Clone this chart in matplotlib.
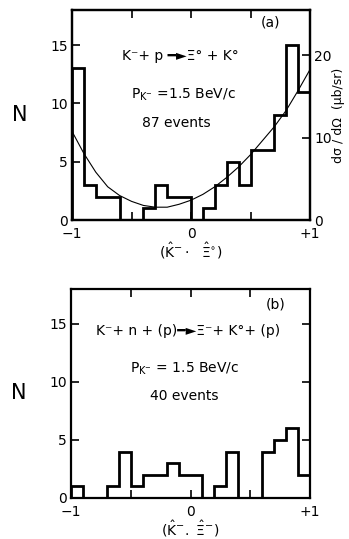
import numpy as np
import matplotlib
matplotlib.use('Agg')
import matplotlib.pyplot as plt

# 数据: 每个 bin 宽 0.1, 从 -1 到 +1
bin_edges = np.linspace(-1, 1, 21)
counts_a = [13, 3, 2, 2, 0, 0, 1, 3, 2, 2, 0, 1, 3, 5, 3, 6, 6, 9, 15, 11]
counts_b = [1, 0, 0, 1, 4, 1, 2, 2, 3, 2, 2, 0, 1, 4, 0, 0, 4, 5, 6, 2]

# 拟合曲线 (从图上读出的点)
fit_x = [-1.0, -0.9, -0.8, -0.7, -0.6, -0.5, -0.4, -0.3, -0.2, -0.1, 0.0,
         0.1, 0.2, 0.3, 0.4, 0.5, 0.6, 0.7, 0.8, 0.9, 1.0]
fit_n = [7.6, 5.7, 4.1, 2.85, 2.1, 1.6, 1.25, 1.1, 1.1, 1.35, 1.7,
         2.2, 2.85, 3.65, 4.55, 5.6, 6.8, 8.0, 9.4, 11.1, 12.9]

xtick_pos = [-1, -0.5, 0, 0.5, 1]
xtick_lab = ['\u22121', '', '0', '', '+1']
ytick_pos = [0, 5, 10, 15]
sigma_per_n = 1.414   # dσ/dΩ per event

fig = plt.figure(figsize=(3.49, 5.39), dpi=100)
ax_a = fig.add_axes([0.2063, 0.5918, 0.682, 0.3896])
ax_b = fig.add_axes([0.2034, 0.0761, 0.685, 0.3878])


def style_axis(ax, right_ticks=True):
    ax.set_xlim(-1, 1)
    ax.set_ylim(0, 18)
    ax.set_xticks(xtick_pos)
    ax.set_xticklabels(xtick_lab)
    ax.set_yticks(ytick_pos)
    ax.tick_params(direction='in', length=6, width=1.2, labelsize=10,
                   top=True, right=right_ticks, pad=3)
    ax.tick_params(axis='x', pad=5)
    for s in ax.spines.values():
        s.set_linewidth(1.6)
    ax.set_ylabel('N', fontsize=15, rotation=0, labelpad=22, va='center')


# -(a)
ax_a.stairs(counts_a, bin_edges, color='black', linewidth=2.0, baseline=0)
ax_a.plot(fit_x, fit_n, color='black', linewidth=0.8)
style_axis(ax_a, right_ticks=False)
ax_a.set_xlabel('$(\\hat{\\mathrm{K}}^{-}\\cdot\\ \\ \\hat{\\Xi}^{\\circ})$', fontsize=10, labelpad=0)
ax_a.text(0.664, 16.9, '(a)', fontsize=10, ha='center', va='center')
ax_a.text(-0.09, 14.1, 'K\u207b+ p \u2501\u25ba\u039e\u00b0 + K\u00b0', fontsize=10, ha='center', va='center')
ax_a.text(-0.06, 10.7, '$\\mathrm{P_{K^{-}}}$ =1.5 BeV/c', fontsize=10, ha='center', va='center')
ax_a.text(-0.12, 8.3, '87 events', fontsize=10, ha='center', va='center')

ax_a2 = ax_a.twinx()
ax_a2.set_ylim(0, 18 * sigma_per_n)
ax_a2.set_yticks([0, 10, 20])
ax_a2.tick_params(direction='in', length=6, width=1.2, labelsize=10, pad=3)
ax_a2.set_ylabel('d\u03c3 / d\u03a9  (\u03bcb/sr)', fontsize=9, labelpad=0)
for s in ax_a2.spines.values():
    s.set_linewidth(1.6)

# -(b)
ax_b.stairs(counts_b, bin_edges, color='black', linewidth=2.0, baseline=0)
style_axis(ax_b, right_ticks=True)
ax_b.set_xlabel('$(\\hat{\\mathrm{K}}^{-}.\\ \\hat{\\Xi}^{-})$', fontsize=10, labelpad=0)
ax_b.text(0.71, 16.7, '(b)', fontsize=10, ha='center', va='center')
ax_b.text(-0.02, 14.4, 'K\u207b+ n + (p)\u2501\u25ba\u039e\u207b+ K\u00b0+ (p)', fontsize=10, ha='center', va='center')
ax_b.text(-0.05, 11.1, '$\\mathrm{P_{K^{-}}}$ = 1.5 BeV/c', fontsize=10, ha='center', va='center')
ax_b.text(-0.05, 8.8, '40 events', fontsize=10, ha='center', va='center')

plt.savefig('out.png', dpi=100)
